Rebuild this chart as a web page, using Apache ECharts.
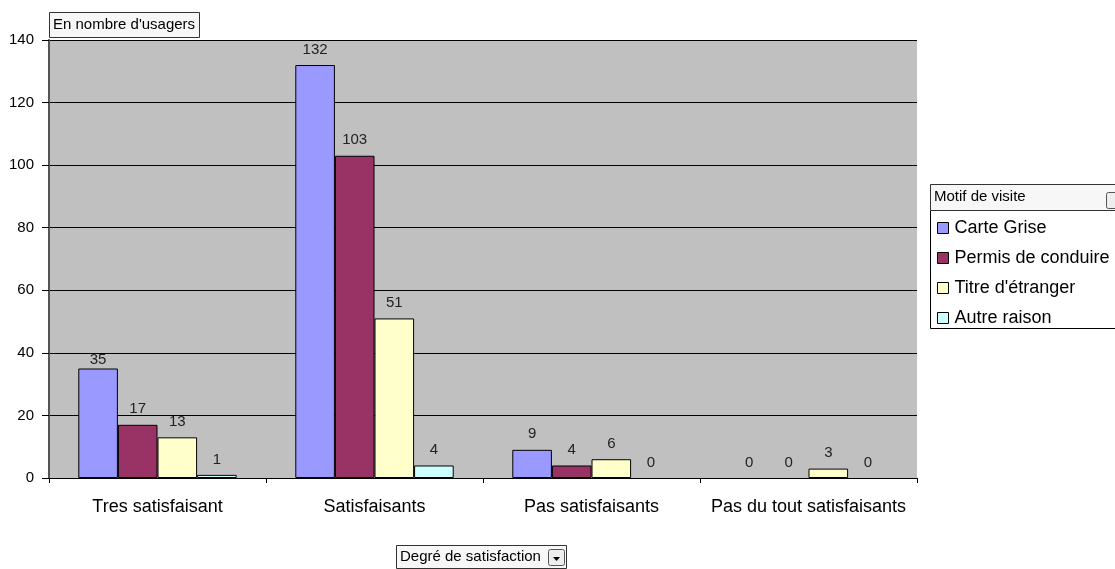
<!DOCTYPE html>
<html>
<head>
<meta charset="utf-8">
<script src="https://cdn.jsdelivr.net/npm/echarts@6/dist/echarts.min.js"></script>
<style>
  html, body { margin: 0; padding: 0; background: #fff; }
  #chart { width: 1115px; height: 569px; }
</style>
</head>
<body>
<div id="chart"></div>
<script>
// Satisfaction level per visit reason (number of users)
const categories = ['Tres satisfaisant', 'Satisfaisants', 'Pas satisfaisants', 'Pas du tout satisfaisants'];
const seriesNames = ['Carte Grise', 'Permis de conduire', "Titre d'étranger", 'Autre raison'];
const carteGrise = [35, 132, 9, 0];
const permis = [17, 103, 4, 0];
const titreEtranger = [13, 51, 6, 3];
const autreRaison = [1, 4, 0, 0];
const yTicks = [0, 20, 40, 60, 80, 100, 120, 140];

const colors = ['#9999FF', '#993366', '#FFFFCC', '#CCFFFF'];
const values = [carteGrise, permis, titreEtranger, autreRaison];

const font = 'Arial, "Liberation Sans", sans-serif';

const chart = echarts.init(document.getElementById('chart'), null, { renderer: 'canvas' });

const series = values.map((data, i) => ({
  name: seriesNames[i],
  type: 'bar',
  data: data.map((v, j) => {
    // zero-height bars get no outline so only their value label remains
    if (v === 0) return { value: v, itemStyle: { borderWidth: 0 } };
    // the first label sits tight on its bar, just under the 40 gridline
    if (i === 0 && j === 0) return { value: v, label: { distance: 1 } };
    return v;
  }),
  barGap: '0%',
  barCategoryGap: '27%',
  itemStyle: { color: colors[i], borderColor: '#000', borderWidth: 1 },
  label: {
    show: true,
    position: 'top',
    distance: 8,
    color: '#222',
    fontFamily: font,
    fontSize: 15
  },
  emphasis: { disabled: true },
  animation: false
}));

chart.setOption({
  animation: false,
  backgroundColor: '#ffffff',
  grid: { left: 49, right: 198, top: 40, bottom: 91, backgroundColor: '#C0C0C0', show: true, borderWidth: 0 },
  xAxis: {
    type: 'category',
    data: categories,
    axisLine: { show: true, lineStyle: { color: '#000', width: 1 } },
    axisTick: { show: true, interval: 0, length: 5, lineStyle: { color: '#000' } },
    axisLabel: { interval: 0, color: '#000', fontFamily: font, fontSize: 18, margin: 20 }
  },
  yAxis: {
    type: 'value',
    min: yTicks[0],
    max: yTicks[yTicks.length - 1],
    interval: yTicks[1] - yTicks[0],
    axisLine: { show: true, lineStyle: { color: '#555', width: 2 } },
    axisTick: { show: true, length: 7, lineStyle: { color: '#000' } },
    axisLabel: { color: '#000', fontFamily: font, fontSize: 15, margin: 15 },
    splitLine: { show: true, lineStyle: { color: '#000', width: 1 } }
  },
  legend: {
    orient: 'vertical',
    left: 937,
    top: 219,
    padding: 0,
    itemGap: 12,
    itemWidth: 11,
    itemHeight: 11,
    icon: 'rect',
    itemStyle: { borderColor: '#000', borderWidth: 1 },
    textStyle: { color: '#000', fontFamily: font, fontSize: 18, padding: [0, 0, 0, 1] },
    selectedMode: false,
    data: seriesNames
  },
  graphic: [
    // Value axis title field button
    { type: 'rect', shape: { x: 49.5, y: 12.5, width: 150, height: 25 }, style: { fill: '#f7f7f7', stroke: '#333', lineWidth: 1 }, z: 10 },
    { type: 'text', x: 53, y: 25, style: { text: "En nombre d'usagers", fill: '#000', font: '15px ' + font, textVerticalAlign: 'middle' }, z: 11 },
    // Legend box
    { type: 'rect', shape: { x: 930.5, y: 210.5, width: 200, height: 118 }, style: { fill: '#fff', stroke: '#000', lineWidth: 1 }, z: -1 },
    // Legend header field button
    { type: 'rect', shape: { x: 930.5, y: 184.5, width: 200, height: 26 }, style: { fill: '#f7f7f7', stroke: '#333', lineWidth: 1 }, z: 10 },
    { type: 'text', x: 934, y: 197, style: { text: 'Motif de visite', fill: '#000', font: '15px ' + font, textVerticalAlign: 'middle' }, z: 11 },
    { type: 'rect', shape: { x: 1106.5, y: 192.5, width: 16, height: 16, r: 2 }, style: { fill: '#eee', stroke: '#555', lineWidth: 1 }, z: 11 },
    // Category field button
    { type: 'rect', shape: { x: 396.5, y: 545.5, width: 170, height: 23 }, style: { fill: '#f7f7f7', stroke: '#333', lineWidth: 1 }, z: 10 },
    { type: 'text', x: 400, y: 557, style: { text: 'Degré de satisfaction', fill: '#000', font: '15px ' + font, textVerticalAlign: 'middle' }, z: 11 },
    { type: 'rect', shape: { x: 548.5, y: 549.5, width: 16, height: 16, r: 2 }, style: { fill: '#eee', stroke: '#555', lineWidth: 1 }, z: 11 },
    { type: 'polygon', shape: { points: [[553, 557], [560, 557], [556.5, 561]] }, style: { fill: '#000' }, z: 12 }
  ],
  series: series
});
</script>
</body>
</html>
